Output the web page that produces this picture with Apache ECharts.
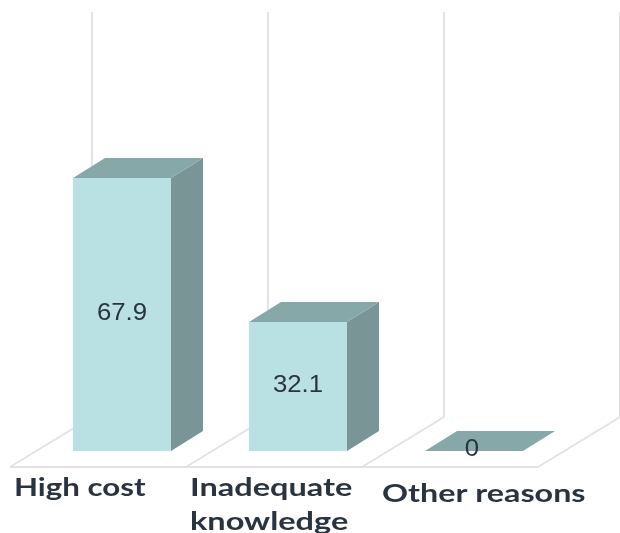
<!DOCTYPE html>
<html>
<head>
<meta charset="utf-8">
<style>html,body{margin:0;padding:0;background:#fff}#c{width:620px;height:533px}</style>
<script src="https://cdn.jsdelivr.net/npm/echarts@6/dist/echarts.min.js"></script>
</head>
<body>
<div id="c"></div>
<script>
const categories = ['High cost', 'Inadequate\nknowledge', 'Other reasons'];
const percentages = [67.9, 32.1, 0];
const axisMax = 109.2;

const barWidth = 98, depthX = 32, depthY = 20;
const floorBack = 50, floorSide = 82, floorFrontDrop = 16, frontShift = 24, bandHalf = 88;
const labelLeft = [4, 4, 20];
const labelDrop = [20, 20, 26];
const labelStretch = [1.25, 1.3, 1.29];

const lineStyle = { stroke: '#e4e2e4', lineWidth: 2 };

function wall(x, baseY, topY) {
  const frontX = x - frontShift;
  const frontY = baseY + floorFrontDrop;
  return {
    type: 'polyline',
    shape: { points: [[frontX, frontY], [frontX + floorSide, frontY - floorBack], [frontX + floorSide, topY]] },
    style: { fill: null, ...lineStyle }
  };
}

const chart = echarts.init(document.getElementById('c'), null, { renderer: 'canvas' });
chart.setOption({
  animation: false,
  backgroundColor: '#fff',
  grid: { left: 34, width: 528, top: 12, height: 439, outerBoundsMode: 'none', containLabel: false },
  xAxis: {
    type: 'category',
    data: categories,
    axisLine: { show: false },
    axisTick: { show: false },
    splitLine: { show: false },
    axisLabel: { show: false }
  },
  yAxis: { type: 'value', min: 0, max: axisMax, show: false, splitLine: { show: false } },
  series: [
    {
      type: 'custom',
      silent: true,
      clip: false,
      z: 1,
      data: percentages.map((v, i) => [i, v]),
      renderItem(params, api) {
        const i = api.value(0);
        const base = api.coord([i, 0]);
        const top = api.coord([i, axisMax]);
        const children = [wall(base[0] - bandHalf, base[1], top[1])];
        const frontX = base[0] - bandHalf - frontShift;
        const frontY = base[1] + floorFrontDrop;
        children.push({
          type: 'line',
          shape: { x1: frontX, y1: frontY, x2: frontX + 2 * bandHalf, y2: frontY },
          style: lineStyle
        });
        children.push({
          type: 'text',
          x: frontX + labelLeft[i],
          y: base[1] + labelDrop[i],
          scaleX: labelStretch[i],
          style: {
            x: 0,
            y: 0,
            text: categories[i],
            align: 'left',
            verticalAlign: 'top',
            fontFamily: 'Lato',
            fontWeight: 700,
            fontSize: 25,
            lineHeight: 34,
            fill: '#2a3340'
          }
        });
        if (i === categories.length - 1) children.push(wall(base[0] + bandHalf, base[1], top[1]));
        return { type: 'group', children };
      }
    },
    {
      type: 'custom',
      silent: true,
      clip: false,
      z: 2,
      data: percentages.map((v, i) => [i, v]),
      renderItem(params, api) {
        const i = api.value(0), v = api.value(1);
        const b = api.coord([i, 0]);
        const t = api.coord([i, v]);
        const l = b[0] - barWidth / 2, r = b[0] + barWidth / 2;
        const children = [];
        children.push({
          type: 'polygon',
          shape: { points: [[r, t[1]], [r + depthX, t[1] - depthY], [r + depthX, b[1] - depthY], [r, b[1]]] },
          style: { fill: '#7a9596' }
        });
        children.push({
          type: 'polygon',
          shape: { points: [[l, t[1]], [l + depthX, t[1] - depthY], [r + depthX, t[1] - depthY], [r, t[1]]] },
          style: { fill: '#86a8a9' }
        });
        children.push({
          type: 'rect',
          shape: { x: l, y: t[1], width: barWidth, height: b[1] - t[1] },
          style: { fill: '#b9e0e3' }
        });
        children.push({
          type: 'text',
          z2: 5,
          x: b[0] + (v > 0 ? 0 : -2),
          y: (t[1] + b[1]) / 2 - 1,
          scaleX: 1.12,
          style: {
            x: 0,
            y: 0,
            text: String(v),
            align: 'center',
            verticalAlign: 'middle',
            fontFamily: 'Liberation Sans',
            fontSize: 23,
            fill: '#2a3340'
          }
        });
        return { type: 'group', children };
      }
    }
  ]
});
</script>
</body>
</html>
